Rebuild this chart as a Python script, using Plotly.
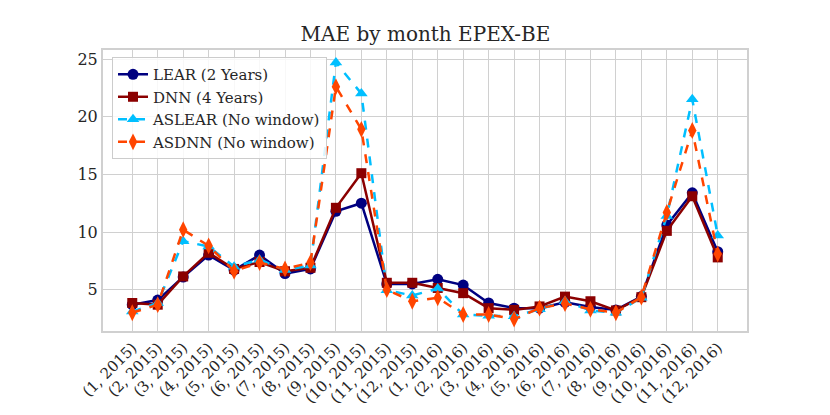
import plotly.graph_objects as go

months = ["(1, 2015)", "(2, 2015)", "(3, 2015)", "(4, 2015)", "(5, 2015)", "(6, 2015)",
          "(7, 2015)", "(8, 2015)", "(9, 2015)", "(10, 2015)", "(11, 2015)", "(12, 2015)",
          "(1, 2016)", "(2, 2016)", "(3, 2016)", "(4, 2016)", "(5, 2016)", "(6, 2016)",
          "(7, 2016)", "(8, 2016)", "(9, 2016)", "(10, 2016)", "(11, 2016)", "(12, 2016)"]

lear = [3.7, 4.1, 6.1, 8.0, 6.7, 8.0, 6.4, 6.8, 11.8, 12.5, 5.5, 5.5,
        5.9, 5.4, 3.85, 3.4, 3.4, 3.9, 3.5, 3.25, 4.4, 10.6, 13.4, 8.3]
dnn = [3.85, 3.7, 6.15, 8.2, 6.8, 7.4, 6.6, 6.9, 12.1, 15.1, 5.6, 5.6,
       5.15, 4.7, 3.4, 3.25, 3.55, 4.4, 4.0, 3.2, 4.35, 10.1, 13.1, 7.8]
aslear = [3.1, 3.85, 9.2, 8.75, 7.0, 7.6, 6.7, 7.1, 24.7, 22.0, 4.95, 4.5,
          5.1, 2.85, 2.75, 2.7, 3.3, 4.0, 3.2, 3.0, 4.3, 11.4, 21.5, 9.7]
asdnn = [3.0, 3.7, 10.2, 8.8, 6.6, 7.35, 6.8, 7.35, 22.6, 18.9, 5.0, 4.0,
         4.3, 2.85, 2.85, 2.45, 3.4, 3.8, 3.3, 3.0, 4.35, 11.7, 18.8, 8.1]

fig = go.Figure()
fig.add_trace(go.Scatter(x=months, y=lear, name="LEAR (2 Years)", mode="lines+markers",
                         line=dict(color="#000080", width=2.5),
                         marker=dict(symbol="circle", size=11, color="#000080")))
fig.add_trace(go.Scatter(x=months, y=dnn, name="DNN (4 Years)", mode="lines+markers",
                         line=dict(color="#8B0000", width=2.5),
                         marker=dict(symbol="square", size=10, color="#8B0000")))
fig.add_trace(go.Scatter(x=months, y=aslear, name="ASLEAR (No window)", mode="lines+markers",
                         line=dict(color="#00BFFF", width=2.5, dash="dash"),
                         marker=dict(symbol="triangle-up", size=11, color="#00BFFF")))
fig.add_trace(go.Scatter(x=months, y=asdnn, name="ASDNN (No window)", mode="lines+markers",
                         line=dict(color="#FF4500", width=2.5, dash="dash"),
                         marker=dict(symbol="diamond-tall", size=12, color="#FF4500")))

grid = "#d0d0d0"
# page body adds ~8px offset, so margins are shifted to compensate
fig.update_layout(
    width=830, height=415,
    margin=dict(l=95, r=91, t=42, b=92),
    paper_bgcolor="white", plot_bgcolor="white",
    font=dict(family="DejaVu Serif", size=15, color="#262626"),
    title=dict(text="MAE by month EPEX-BE", x=0.503, xanchor="center", y=0.937, yanchor="middle",
               font=dict(size=20, color="#262626")),
    legend=dict(x=0.014, y=0.975, xanchor="left", yanchor="top",
                bgcolor="rgba(255,255,255,0.85)", bordercolor="#cccccc", borderwidth=1,
                font=dict(size=15), tracegroupgap=0),
    showlegend=True,
)
fig.update_xaxes(type="category", range=[-1.15, 24.15], tickangle=-45, automargin=False,
                 showgrid=True, gridcolor=grid, gridwidth=1,
                 showline=True, linecolor=grid, linewidth=2, mirror=True,
                 ticks="", tickfont=dict(size=15))
fig.update_yaxes(range=[1.42, 25.78], tickvals=[5, 10, 15, 20, 25], automargin=False,
                 showgrid=True, gridcolor=grid, gridwidth=1, zeroline=False,
                 showline=True, linecolor=grid, linewidth=2, mirror=True,
                 ticks="", tickfont=dict(size=16))

fig.write_html("out.html")
